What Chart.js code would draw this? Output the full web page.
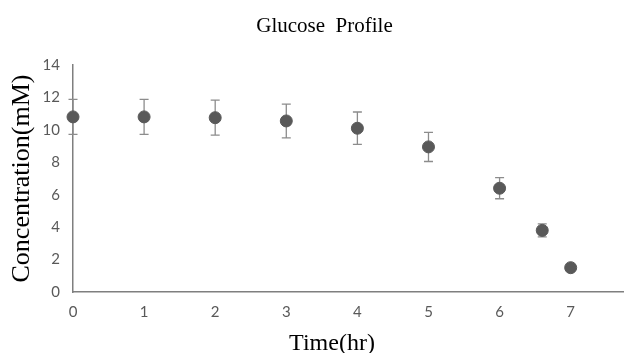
<!DOCTYPE html>
<html><head><meta charset="utf-8">
<script src="https://cdn.jsdelivr.net/npm/chart.js@4/dist/chart.umd.min.js"></script>
<style>html,body{margin:0;padding:0;background:#fff}</style>
</head><body><canvas id="c" width="624" height="353"></canvas>
<script>
const timeHr = [0, 1, 2, 3, 4, 5, 6, 6.6, 7];
const glucoseMM = [10.8, 10.8, 10.75, 10.55, 10.1, 8.95, 6.4, 3.8, 1.5];
const errorMM = [1.08, 1.08, 1.08, 1.04, 1.0, 0.9, 0.65, 0.4, 0.1];
const xTickLabels = [0, 1, 2, 3, 4, 5, 6, 7];
const yTickLabels = [0, 2, 4, 6, 8, 10, 12, 14];
const chartTitle = 'Glucose  Profile';
const xTitle = 'Time(hr)';
const yTitle = 'Concentration(mM)';

const errorBars = {
  id: 'errorBars',
  beforeDatasetsDraw(chart) {
    const ctx = chart.ctx, xs = chart.scales.x, ys = chart.scales.y;
    ctx.save();
    ctx.strokeStyle = '#8c8c8c';
    ctx.lineWidth = 1.3;
    timeHr.forEach((t, i) => {
      const px = xs.getPixelForValue(t);
      const top = ys.getPixelForValue(glucoseMM[i] + errorMM[i]);
      const bot = ys.getPixelForValue(glucoseMM[i] - errorMM[i]);
      ctx.beginPath();
      ctx.moveTo(px, top); ctx.lineTo(px, bot);
      ctx.moveTo(px - 4.5, top); ctx.lineTo(px + 4.5, top);
      ctx.moveTo(px - 4.5, bot); ctx.lineTo(px + 4.5, bot);
      ctx.stroke();
    });
    ctx.restore();
  }
};

const titles = {
  id: 'titles',
  afterDraw(chart) {
    const ctx = chart.ctx, a = chart.chartArea;
    ctx.save();
    ctx.fillStyle = '#000';
    ctx.textAlign = 'center';
    ctx.textBaseline = 'alphabetic';
    ctx.font = '21px "Liberation Serif"';
    ctx.fillText(chartTitle, a.left + 251.5, a.top - 33.5);
    ctx.font = '24px "Liberation Serif"';
    ctx.fillText(xTitle, a.left + 259, a.bottom + 58);
    ctx.restore();
  }
};

new Chart(document.getElementById('c'), {
  type: 'scatter',
  data: {
    datasets: [{
      data: timeHr.map((t, i) => ({x: t, y: glucoseMM[i]})),
      backgroundColor: '#595959',
      borderColor: '#595959',
      pointRadius: 6,
      pointHoverRadius: 6,
      clip: false
    }]
  },
  options: {
    responsive: false,
    animation: false,
    events: [],
    layout: {autoPadding: false, padding: {left: 0, right: 0, top: 65, bottom: 0}},
    plugins: {
      legend: {display: false},
      tooltip: {enabled: false},
      title: {display: false}
    },
    scales: {
      x: {
        type: 'linear',
        min: 0, max: 7.75,
        afterBuildTicks: s => { s.ticks = xTickLabels.map(v => ({value: v})); },
        afterFit: s => { s.height = 61; s.paddingLeft = 0; s.paddingRight = 0; },
        grid: {display: false, drawTicks: false},
        border: {display: true, color: '#7f7f7f', width: 1.5},
        ticks: {padding: 11, color: '#595959', font: {family: 'Lato', size: 15}, maxRotation: 0},
        title: {display: false}
      },
      y: {
        min: 0, max: 14,
        afterBuildTicks: s => { s.ticks = yTickLabels.map(v => ({value: v})); },
        afterFit: s => { s.width = 73; s.paddingTop = 0; s.paddingBottom = 0; },
        grid: {display: false, drawTicks: false},
        border: {display: true, color: '#7f7f7f', width: 1.5},
        ticks: {padding: 13, color: '#595959', font: {family: 'Lato', size: 15}},
        title: {display: true, text: yTitle, color: '#000', padding: {top: 7, bottom: 0},
                font: {family: 'Liberation Serif', size: 26}}
      }
    }
  },
  plugins: [errorBars, titles]
});
</script>
</body></html>
